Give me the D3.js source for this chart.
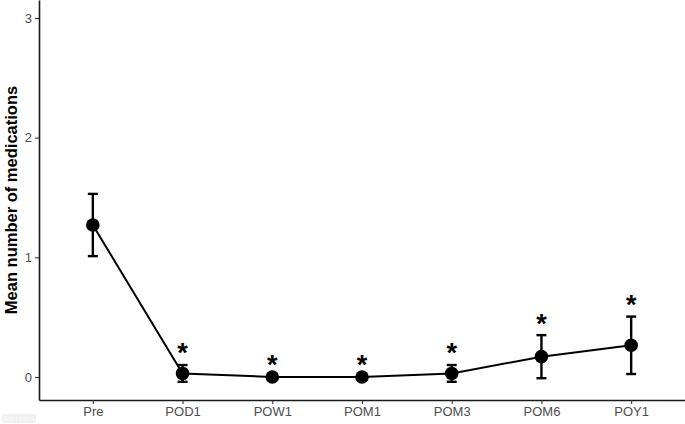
<!DOCTYPE html>
<html>
<head>
<meta charset="utf-8">
<script src="https://cdn.jsdelivr.net/npm/d3@7"></script>
<style>
  html, body { margin: 0; padding: 0; background: #fff; }
  svg { display: block; font-family: "Liberation Sans", Arial, sans-serif; }
</style>
</head>
<body>
<svg id="chart" width="685" height="424"></svg>
<script>
// ---------- data ----------
const timepoints = ['Pre', 'POD1', 'POW1', 'POM1', 'POM3', 'POM6', 'POY1'];
const means      = [1.27, 0.03, 0.00, 0.00, 0.03, 0.17, 0.265];
const errors     = [0.26, 0.07, 0.00, 0.00, 0.07, 0.18, 0.24];
const significant = [false, true, true, true, true, true, true];
const yTicks = [0, 1, 2, 3];

const plot = { left: 39, right: 685, top: 0, bottom: 400 };

const svg = d3.select('#chart');

const x = d3.scalePoint()
    .domain(timepoints)
    .range([plot.left, plot.right])
    .padding(0.6);

const y = d3.scaleLinear()
    .domain([-0.192, 3.15])
    .range([plot.bottom, plot.top]);

// ---------- axes ----------
const yAxis = svg.append('g')
    .attr('transform', `translate(${plot.left},0)`)
    .call(d3.axisLeft(y).tickValues(yTicks).tickFormat(d3.format('d')).tickSize(4).tickPadding(3).tickSizeOuter(0));

const xAxis = svg.append('g')
    .attr('transform', `translate(0,${plot.bottom})`)
    .call(d3.axisBottom(x).tickSize(4).tickPadding(3).tickSizeOuter(0));

[yAxis, xAxis].forEach(g => {
    g.select('.domain').attr('stroke', '#1a1a1a').attr('stroke-width', 1.6);
    g.selectAll('.tick line').attr('stroke', '#333').attr('stroke-width', 1.1);
    g.selectAll('.tick text').attr('fill', '#4d4d4d').style('font-size', '13px');
});

svg.append('text')
    .attr('transform', `translate(11,${(plot.top + plot.bottom) / 2}) rotate(-90)`)
    .attr('text-anchor', 'middle')
    .attr('dy', '0.35em')
    .style('font-size', '16.5px')
    .style('font-weight', 'bold')
    .attr('fill', '#000')
    .text('Mean number of medications');

// ---------- series ----------
const rows = timepoints.map((t, i) => ({ t, m: means[i], e: errors[i], sig: significant[i] }));

svg.append('path')
    .datum(rows)
    .attr('fill', 'none')
    .attr('stroke', '#000')
    .attr('stroke-width', 2)
    .attr('d', d3.line().x(d => x(d.t)).y(d => y(d.m)));

const bars = svg.append('g')
    .selectAll('g')
    .data(rows.filter(d => d.e > 0))
    .join('g')
    .attr('stroke', '#000')
    .attr('stroke-width', 2.4);

bars.append('line')
    .attr('x1', d => x(d.t)).attr('x2', d => x(d.t))
    .attr('y1', d => y(d.m - d.e)).attr('y2', d => y(d.m + d.e));
bars.append('line')
    .attr('x1', d => x(d.t) - 5).attr('x2', d => x(d.t) + 5)
    .attr('y1', d => y(d.m + d.e)).attr('y2', d => y(d.m + d.e));
bars.append('line')
    .attr('x1', d => x(d.t) - 5).attr('x2', d => x(d.t) + 5)
    .attr('y1', d => y(d.m - d.e)).attr('y2', d => y(d.m - d.e));

svg.append('g')
    .selectAll('circle')
    .data(rows)
    .join('circle')
    .attr('cx', d => x(d.t))
    .attr('cy', d => y(d.m))
    .attr('r', 6.8)
    .attr('fill', '#000');

svg.append('g')
    .selectAll('text')
    .data(rows.filter(d => d.sig))
    .join('text')
    .attr('x', d => x(d.t))
    .attr('y', d => y(d.m + d.e) - 18)
    .attr('dy', '0.57em')
    .attr('text-anchor', 'middle')
    .style('font-size', '27px')
    .style('font-weight', 'bold')
    .attr('fill', '#000')
    .text('*');

// small size stamp in corner
svg.append('rect').attr('x', 2).attr('y', 414).attr('width', 34).attr('height', 9).attr('rx', 2).attr('fill', '#f0f0f0');
svg.append('text').attr('x', 19).attr('y', 421).attr('text-anchor', 'middle')
    .style('font-size', '5px').attr('fill', '#fff').text('8.00 x 5.00 in');
</script>
</body>
</html>
